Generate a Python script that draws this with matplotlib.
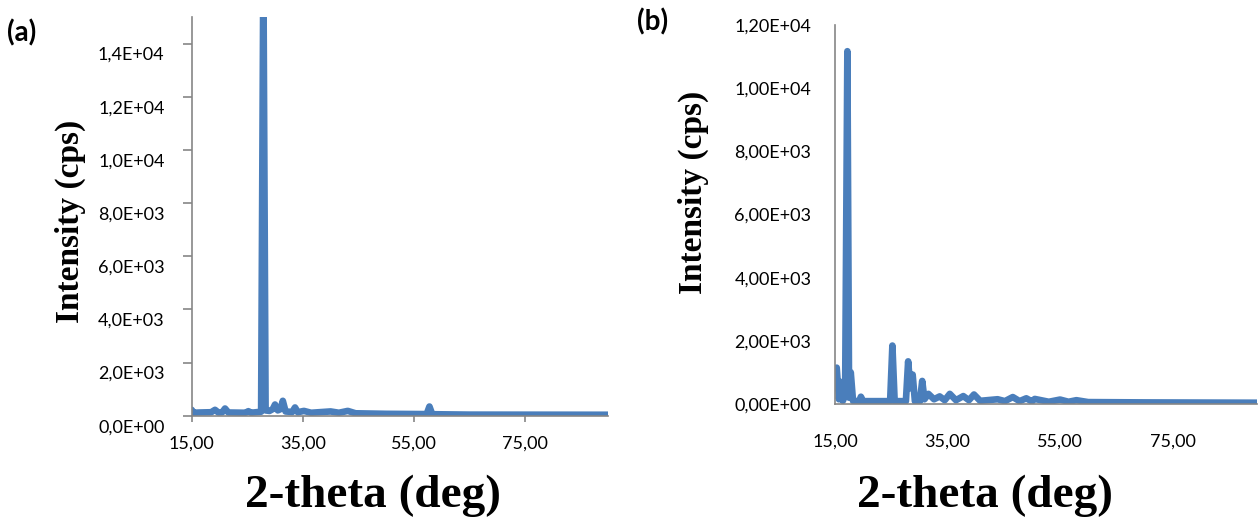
import matplotlib
matplotlib.use("Agg")
import matplotlib.pyplot as plt
from matplotlib.ticker import FuncFormatter
from matplotlib.transforms import ScaledTranslation

# (a) diffractogram (2-theta in deg, intensity in cps)
theta_a = [15.0, 15.3, 16.5, 18.5, 19.2, 19.8, 20.5, 21.0, 21.6, 24.7, 25.2,
           25.7, 27.5, 27.9, 28.3, 29.0, 29.6, 30.0, 30.5, 31.0, 31.4, 31.9,
           33.1, 33.6, 34.1, 35.2, 36.5, 40.0, 41.5, 43.1, 44.5, 50.0, 57.3,
           57.8, 58.3, 65.0, 90.0]
counts_a = [220, 110, 120, 130, 220, 120, 130, 270, 120, 110, 170,
            110, 150, 17000, 200, 180, 250, 420, 200, 250, 560, 160,
            140, 310, 130, 180, 110, 160, 110, 180, 90, 70, 60,
            345, 55, 40, 35]

# (b) diffractogram
theta_b = [15.0, 15.3, 15.7, 16.0, 16.4, 16.8, 17.2, 17.5, 17.8, 18.2, 19.3,
           19.6, 20.0, 24.8, 25.2, 25.6, 27.6, 28.0, 28.4, 28.8, 29.2, 30.1,
           30.5, 30.9, 31.6, 32.6, 33.6, 34.5, 35.4, 36.5, 37.8, 38.8, 39.7,
           40.8, 43.9, 45.2, 46.6, 47.8, 49.0, 50.0, 50.5, 53.0, 55.0, 56.5,
           57.9, 60.0, 70.0, 90.0]
counts_b = [1100, 1150, 150, 700, 100, 300, 11170, 200, 1000, 100, 90,
            230, 90, 90, 1850, 90, 90, 1350, 500, 930, 90, 90,
            730, 150, 320, 150, 240, 120, 320, 120, 250, 120, 300,
            100, 150, 90, 220, 90, 180, 80, 160, 70, 140, 70,
            120, 60, 50, 40]

xticks = [15, 35, 55, 75]
yticks_a = [0, 2000, 4000, 6000, 8000, 10000, 12000, 14000]
yticks_b = [0, 2000, 4000, 6000, 8000, 10000, 12000]

blue = "#4a7ebb"
grey = "#868686"
tick_font = "Lato"
label_font = "Liberation Serif"
tick_size = 13

W, H = 1259, 519
fig = plt.figure(figsize=(W / 100, H / 100), dpi=100)

ax_a = fig.add_axes([191.7 / W, (H - 415.7) / H, (608.3 - 191.7) / W, (415.7 - 17) / H])
ax_b = fig.add_axes([835 / W, (H - 404) / H, (1257 - 835) / W, (404 - 25) / H])

for ax, th, ct in [(ax_a, theta_a, counts_a), (ax_b, theta_b, counts_b)]:
    ax.plot(th, ct, color=blue, lw=4.8, solid_capstyle="round",
            solid_joinstyle="round")
    ax.set_xlim(15, 90)
    ax.set_xticks(xticks)
    ax.xaxis.set_major_formatter(FuncFormatter(lambda v, p: f"{v:.2f}".replace(".", ",")))
    for s in ["top", "right"]:
        ax.spines[s].set_visible(False)
    for s in ["left", "bottom"]:
        ax.spines[s].set_color(grey)
        ax.spines[s].set_linewidth(1.2)

ax_a.set_ylim(0, 15000)
ax_a.set_yticks(yticks_a)
ax_a.yaxis.set_major_formatter(FuncFormatter(lambda v, p: f"{v:.1E}".replace(".", ",")))
ax_a.tick_params(axis="y", direction="out", length=6.5, width=1.2, color=grey, pad=13)
ax_a.tick_params(axis="x", direction="out", length=4.5, width=1.2, color=grey, pad=10)

ax_b.set_ylim(0, 12000)
ax_b.set_yticks(yticks_b)
ax_b.yaxis.set_major_formatter(FuncFormatter(lambda v, p: f"{v:.2E}".replace(".", ",")))
ax_b.tick_params(axis="y", direction="out", length=4, color="none", pad=13)
ax_b.tick_params(axis="x", direction="out", length=4, color="none", pad=17)

# Excel drew the y labels of (a) a little below their ticks
shift = ScaledTranslation(0, -0.10, fig.dpi_scale_trans)
for ax in [ax_a, ax_b]:
    for lab in ax.get_xticklabels() + ax.get_yticklabels():
        lab.set_fontfamily(tick_font)
        lab.set_fontsize(tick_size)
for lab in ax_a.get_yticklabels():
    lab.set_transform(lab.get_transform() + shift)

def px(x, y):
    return x / W, 1 - y / H

ylab_kw = dict(family=label_font, weight="bold", fontsize=24, ha="center", va="center")
xlab_kw = dict(family=label_font, weight="bold", fontsize=34, ha="center", va="center")
fig.text(*px(70, 221), "Intensity (cps)", rotation=90, **ylab_kw)
fig.text(*px(373, 496), "2-theta (deg)", **xlab_kw)
fig.text(*px(693, 192), "Intensity (cps)", rotation=90, **ylab_kw)
fig.text(*px(985, 496), "2-theta (deg)", **xlab_kw)

fig.text(*px(7, 33), "(a)", family=tick_font, weight="bold", fontsize=20, ha="left", va="center")
fig.text(*px(637, 22), "(b)", family=tick_font, weight="bold", fontsize=20, ha="left", va="center")

fig.savefig("out.png", dpi=100)
